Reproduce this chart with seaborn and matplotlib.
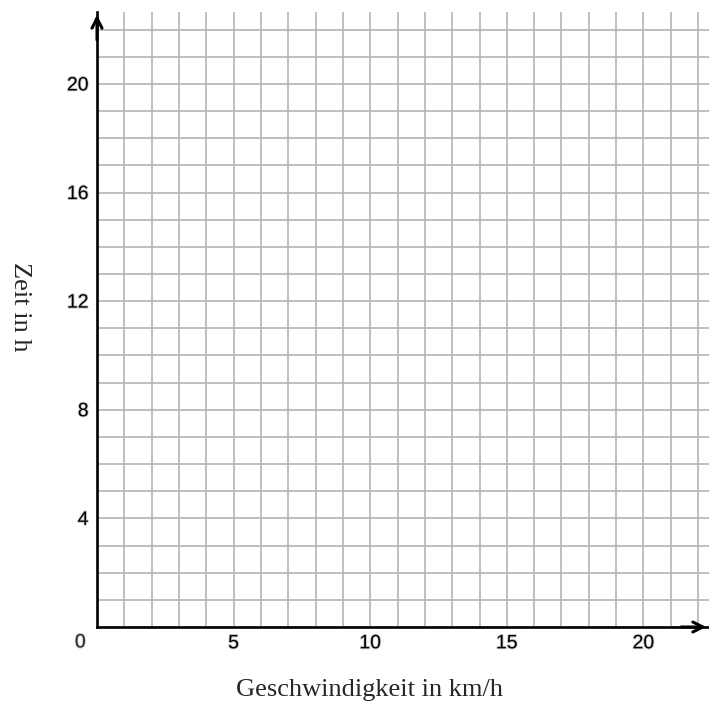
import numpy as np
import seaborn as sns
import matplotlib.pyplot as plt
import matplotlib.patheffects as pe
from matplotlib.ticker import MultipleLocator

# axis values
x_ticks = [5, 10, 15, 20]
y_ticks = [4, 8, 12, 16, 20]
origin_label = '0'
x_label = 'Geschwindigkeit in km/h'
y_label = 'Zeit in h'
x_max = 22.4
y_max = 22.65
grid_step = 1

sns.set_style('white')
plt.rcParams['font.family'] = ['Liberation Sans', 'DejaVu Sans']

fig = plt.figure(figsize=(7.09, 7.09), dpi=100)
ax = fig.add_axes([97 / 709, 82 / 709, 612 / 709, 615 / 709])

ax.set_xlim(0, x_max)
ax.set_ylim(0, y_max)
ax.set_xticks(x_ticks)
ax.set_yticks(y_ticks)
ax.xaxis.set_minor_locator(MultipleLocator(grid_step))
ax.yaxis.set_minor_locator(MultipleLocator(grid_step))
ax.grid(which='both', color='#b4b4b4', linewidth=1.2)
ax.set_axisbelow(True)
ax.tick_params(which='both', length=0, labelsize=14, colors='black')
ax.tick_params(axis='x', pad=6)
ax.tick_params(axis='y', pad=6)

halo = [pe.withStroke(linewidth=1.3, foreground='#c8c8c8')]
for lab in ax.get_xticklabels() + ax.get_yticklabels():
    lab.set_path_effects(halo)

sns.despine(ax=ax, top=True, right=True)
for side in ['left', 'bottom']:
    ax.spines[side].set_color('black')
    ax.spines[side].set_linewidth(1.9)
    ax.spines[side].set_zorder(5)

# arrow heads on the axes
ax.annotate('', xy=(1.0, 0), xytext=(0.95, 0), xycoords='axes fraction',
            arrowprops=dict(arrowstyle='->', lw=2.2, color='black', mutation_scale=18),
            annotation_clip=False)
ax.annotate('', xy=(0, 1.0), xytext=(0, 0.95), xycoords='axes fraction',
            arrowprops=dict(arrowstyle='->', lw=2.2, color='black', mutation_scale=18),
            annotation_clip=False)

ax.annotate(origin_label, xy=(0, 0), xytext=(-12, -11.5), textcoords='offset points',
            ha='center', va='center', fontsize=14, annotation_clip=False,
            path_effects=halo)

ax.set_xlabel(x_label, family='Liberation Serif', fontsize=19)
ax.set_ylabel(y_label, family='Liberation Serif', fontsize=19, rotation=-90)
ax.xaxis.set_label_coords(0.446, -0.102)
ax.yaxis.set_label_coords(-0.126, 0.52)
ax.xaxis.label.set_va('center')
ax.yaxis.label.set_va('center')

fig.savefig('out.png', dpi=100)
